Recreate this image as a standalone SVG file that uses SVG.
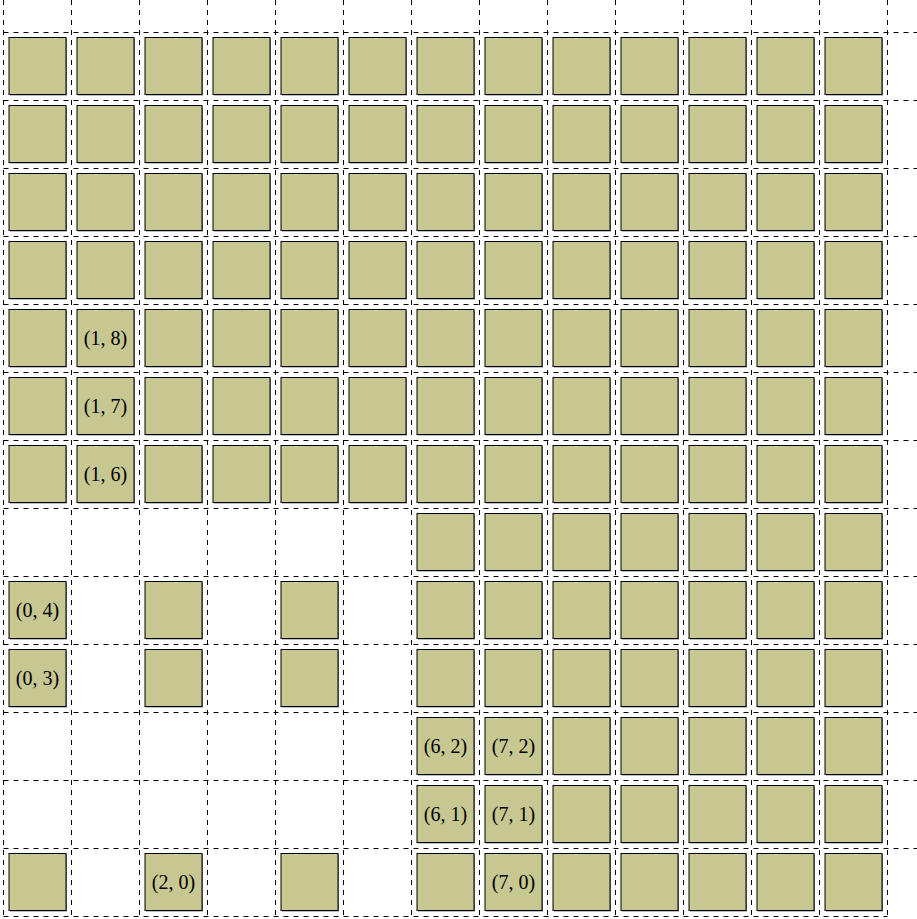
<svg xmlns="http://www.w3.org/2000/svg" width="917" height="919" viewBox="0 0 917 919">
<style>
.g{stroke:#000;stroke-width:1;stroke-dasharray:5 5;fill:none}
.sh{fill:#808080}
.sq{fill:#c7c791;stroke:#000;stroke-width:1}
.t{font-family:"Liberation Serif","DejaVu Serif",serif;font-size:20px;text-anchor:middle;fill:#000}
</style>
<defs>
<g id="c">
<rect class="sh" x="6.5" y="6.5" width="57" height="57"/>
<rect class="sq" x="5.5" y="5.5" width="57" height="57"/>
</g>
</defs>
<rect width="917" height="919" fill="#fff"/>
<g id="cells">
<g id="row0" transform="translate(3.5,32)">
<use href="#c" x="0"/><use href="#c" x="68"/><use href="#c" x="136"/><use href="#c" x="204"/><use href="#c" x="272"/><use href="#c" x="340"/><use href="#c" x="408"/><use href="#c" x="476"/><use href="#c" x="544"/><use href="#c" x="612"/><use href="#c" x="680"/><use href="#c" x="748"/><use href="#c" x="816"/>
</g>
<g id="row1" transform="translate(3.5,100)">
<use href="#c" x="0"/><use href="#c" x="68"/><use href="#c" x="136"/><use href="#c" x="204"/><use href="#c" x="272"/><use href="#c" x="340"/><use href="#c" x="408"/><use href="#c" x="476"/><use href="#c" x="544"/><use href="#c" x="612"/><use href="#c" x="680"/><use href="#c" x="748"/><use href="#c" x="816"/>
</g>
<g id="row2" transform="translate(3.5,168)">
<use href="#c" x="0"/><use href="#c" x="68"/><use href="#c" x="136"/><use href="#c" x="204"/><use href="#c" x="272"/><use href="#c" x="340"/><use href="#c" x="408"/><use href="#c" x="476"/><use href="#c" x="544"/><use href="#c" x="612"/><use href="#c" x="680"/><use href="#c" x="748"/><use href="#c" x="816"/>
</g>
<g id="row3" transform="translate(3.5,236)">
<use href="#c" x="0"/><use href="#c" x="68"/><use href="#c" x="136"/><use href="#c" x="204"/><use href="#c" x="272"/><use href="#c" x="340"/><use href="#c" x="408"/><use href="#c" x="476"/><use href="#c" x="544"/><use href="#c" x="612"/><use href="#c" x="680"/><use href="#c" x="748"/><use href="#c" x="816"/>
</g>
<g id="row4" transform="translate(3.5,304)">
<use href="#c" x="0"/><use href="#c" x="68"/><use href="#c" x="136"/><use href="#c" x="204"/><use href="#c" x="272"/><use href="#c" x="340"/><use href="#c" x="408"/><use href="#c" x="476"/><use href="#c" x="544"/><use href="#c" x="612"/><use href="#c" x="680"/><use href="#c" x="748"/><use href="#c" x="816"/>
</g>
<g id="row5" transform="translate(3.5,372)">
<use href="#c" x="0"/><use href="#c" x="68"/><use href="#c" x="136"/><use href="#c" x="204"/><use href="#c" x="272"/><use href="#c" x="340"/><use href="#c" x="408"/><use href="#c" x="476"/><use href="#c" x="544"/><use href="#c" x="612"/><use href="#c" x="680"/><use href="#c" x="748"/><use href="#c" x="816"/>
</g>
<g id="row6" transform="translate(3.5,440)">
<use href="#c" x="0"/><use href="#c" x="68"/><use href="#c" x="136"/><use href="#c" x="204"/><use href="#c" x="272"/><use href="#c" x="340"/><use href="#c" x="408"/><use href="#c" x="476"/><use href="#c" x="544"/><use href="#c" x="612"/><use href="#c" x="680"/><use href="#c" x="748"/><use href="#c" x="816"/>
</g>
<g id="row7" transform="translate(3.5,508)">
<use href="#c" x="408"/><use href="#c" x="476"/><use href="#c" x="544"/><use href="#c" x="612"/><use href="#c" x="680"/><use href="#c" x="748"/><use href="#c" x="816"/>
</g>
<g id="row8" transform="translate(3.5,576)">
<use href="#c" x="0"/><use href="#c" x="136"/><use href="#c" x="272"/><use href="#c" x="408"/><use href="#c" x="476"/><use href="#c" x="544"/><use href="#c" x="612"/><use href="#c" x="680"/><use href="#c" x="748"/><use href="#c" x="816"/>
</g>
<g id="row9" transform="translate(3.5,644)">
<use href="#c" x="0"/><use href="#c" x="136"/><use href="#c" x="272"/><use href="#c" x="408"/><use href="#c" x="476"/><use href="#c" x="544"/><use href="#c" x="612"/><use href="#c" x="680"/><use href="#c" x="748"/><use href="#c" x="816"/>
</g>
<g id="row10" transform="translate(3.5,712)">
<use href="#c" x="408"/><use href="#c" x="476"/><use href="#c" x="544"/><use href="#c" x="612"/><use href="#c" x="680"/><use href="#c" x="748"/><use href="#c" x="816"/>
</g>
<g id="row11" transform="translate(3.5,780)">
<use href="#c" x="408"/><use href="#c" x="476"/><use href="#c" x="544"/><use href="#c" x="612"/><use href="#c" x="680"/><use href="#c" x="748"/><use href="#c" x="816"/>
</g>
<g id="row12" transform="translate(3.5,848)">
<use href="#c" x="0"/><use href="#c" x="136"/><use href="#c" x="272"/><use href="#c" x="408"/><use href="#c" x="476"/><use href="#c" x="544"/><use href="#c" x="612"/><use href="#c" x="680"/><use href="#c" x="748"/><use href="#c" x="816"/>
</g>
</g>
<g id="labels">
<text class="t" x="105.5" y="345">(1, 8)</text>
<text class="t" x="105.5" y="413">(1, 7)</text>
<text class="t" x="105.5" y="481">(1, 6)</text>
<text class="t" x="37.5" y="617">(0, 4)</text>
<text class="t" x="37.5" y="685">(0, 3)</text>
<text class="t" x="445.5" y="753">(6, 2)</text>
<text class="t" x="513.5" y="753">(7, 2)</text>
<text class="t" x="445.5" y="821">(6, 1)</text>
<text class="t" x="513.5" y="821">(7, 1)</text>
<text class="t" x="173.5" y="889">(2, 0)</text>
<text class="t" x="513.5" y="889">(7, 0)</text>
</g>
<g id="grid" class="g">
<path d="M3.5 0V916M71.5 0V916M139.5 0V916M207.5 0V916M275.5 0V916M343.5 0V916M411.5 0V916M479.5 0V916M547.5 0V916M615.5 0V916M683.5 0V916M751.5 0V916M819.5 0V916M887.5 0V916"/>
<path d="M3.5 32.5H917M3.5 100.5H917M3.5 168.5H917M3.5 236.5H917M3.5 304.5H917M3.5 372.5H917M3.5 440.5H917M3.5 508.5H917M3.5 576.5H917M3.5 644.5H917M3.5 712.5H917M3.5 780.5H917M3.5 848.5H917M3.5 916.5H887.5"/>
</g>
</svg>
